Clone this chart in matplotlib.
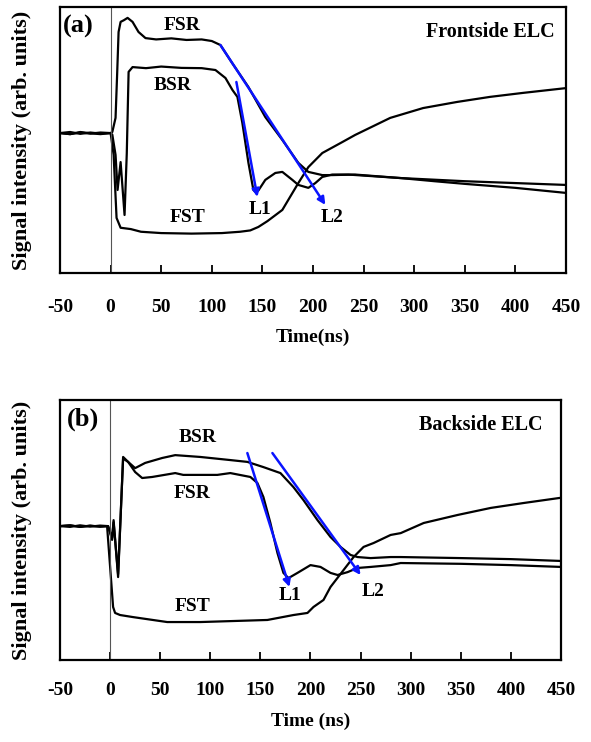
import matplotlib
matplotlib.use('Agg')
import matplotlib.pyplot as plt

plt.rcParams['font.family'] = ['Liberation Serif', 'DejaVu Serif']
plt.rcParams['font.weight'] = 'bold'

# ---- panel (a): Frontside ELC ----
t_fsr_a = [-50, -40, -30, -20, -10, 0, 1.7, 4.9, 6.5, 7.9, 9.9, 13, 16.8, 21.7, 27.6, 34.5,
           45, 60, 75, 90, 100, 108.5, 120, 136.2, 152.9, 169.7, 185.5, 195.4, 209.2,
           219, 241.7, 286, 320, 350, 400, 450]
y_fsr_a = [0.526, 0.530, 0.523, 0.528, 0.524, 0.526, 0.530, 0.583, 0.750, 0.906, 0.944, 0.950,
           0.959, 0.944, 0.906, 0.883, 0.878, 0.882, 0.876, 0.878, 0.872, 0.857, 0.790,
           0.699, 0.586, 0.500, 0.414, 0.380, 0.368, 0.368, 0.370, 0.357, 0.345, 0.335,
           0.320, 0.301]

t_bsr_a = [-50, -40, -30, -20, -10, 0, 1.7, 4.9, 6.9, 9.9, 13.8, 16, 17.8, 21.7, 35, 50, 70,
           90, 103.6, 113.5, 120.4, 125.3, 130.2, 136.2, 141.1, 143.1, 146, 152.9, 162.8,
           169.7, 179.6, 185.5, 195.4, 202.3, 209.2, 219, 234.8, 286, 350, 400, 450]
y_bsr_a = [0.526, 0.522, 0.528, 0.524, 0.528, 0.526, 0.520, 0.444, 0.312, 0.417, 0.218,
           0.450, 0.756, 0.774, 0.770, 0.776, 0.771, 0.770, 0.763, 0.733, 0.688, 0.662,
           0.564, 0.414, 0.312, 0.305, 0.310, 0.350, 0.376, 0.380, 0.350, 0.331, 0.320,
           0.338, 0.361, 0.370, 0.370, 0.357, 0.345, 0.338, 0.331]

t_fst_a = [-50, -40, -30, -20, -10, 0, 1, 3, 5.9, 9.9, 20, 30, 50, 80, 110, 128, 138, 146,
           155, 169.7, 185.5, 195.4, 209.2, 228.9, 241.7, 276.3, 308.8, 342.4, 374.9,
           407.5, 450]
y_fst_a = [0.526, 0.522, 0.530, 0.525, 0.522, 0.526, 0.500, 0.444, 0.207, 0.170, 0.165,
           0.155, 0.150, 0.148, 0.150, 0.155, 0.160, 0.173, 0.195, 0.237, 0.338, 0.398,
           0.451, 0.492, 0.519, 0.583, 0.620, 0.643, 0.662, 0.677, 0.695]

arrows_a = [((124.3, 0.718), (145.0, 0.286)), ((108.5, 0.857), (212.2, 0.256))]
labels_a = [('FSR', 71, 0.932), ('BSR', 61, 0.703), ('FST', 76, 0.207),
            ('L1', 148, 0.237), ('L2', 219, 0.210)]

# ---- panel (b): Backside ELC ----
t_bsr_b = [-50, -40, -30, -20, -10, -2, 2, 3.5, 8, 13, 18, 25, 35, 52, 65, 90, 120, 137,
           153, 170, 183, 193, 207, 220, 230, 240, 247, 260, 280, 290, 350, 400, 450]
y_bsr_b = [0.515, 0.512, 0.518, 0.513, 0.517, 0.515, 0.462, 0.538, 0.319, 0.781, 0.762,
           0.738, 0.758, 0.777, 0.788, 0.781, 0.769, 0.762, 0.742, 0.719, 0.665, 0.615,
           0.538, 0.473, 0.435, 0.404, 0.396, 0.392, 0.396, 0.396, 0.392, 0.388, 0.381]

t_fsr_b = [-50, -40, -30, -20, -10, -2, 2, 3.5, 8, 13, 18, 25, 32, 42, 65, 73, 107, 120,
           140, 147, 153, 160, 167, 173, 178, 187, 200, 210, 220, 227, 237, 247, 260, 280,
           290, 350, 400, 450]
y_fsr_b = [0.515, 0.518, 0.512, 0.517, 0.513, 0.515, 0.470, 0.530, 0.330, 0.775, 0.762,
           0.723, 0.700, 0.704, 0.719, 0.712, 0.712, 0.719, 0.704, 0.681, 0.627, 0.527,
           0.412, 0.335, 0.315, 0.335, 0.365, 0.358, 0.335, 0.327, 0.338, 0.354, 0.358,
           0.365, 0.373, 0.370, 0.365, 0.358]

t_fst_b = [-50, -40, -30, -20, -10, -3, 3, 5, 10, 23, 57, 90, 157, 183, 197, 203, 213, 220,
           233, 243, 253, 263, 280, 290, 313, 347, 380, 413, 448]
y_fst_b = [0.515, 0.518, 0.512, 0.516, 0.513, 0.515, 0.204, 0.181, 0.173, 0.165, 0.146,
           0.146, 0.154, 0.173, 0.181, 0.204, 0.231, 0.281, 0.346, 0.396, 0.435, 0.450,
           0.481, 0.488, 0.527, 0.558, 0.585, 0.604, 0.623]

arrows_b = [((137, 0.796), (179, 0.281)), ((162, 0.796), (250, 0.327))]
labels_b = [('BSR', 87, 0.854), ('FSR', 82, 0.642), ('FST', 82, 0.204),
            ('L1', 180, 0.250), ('L2', 262, 0.262)]

xticks = [-50, 0, 50, 100, 150, 200, 250, 300, 350, 400, 450]


def draw_panel(ax, curves, arrows, labels, tag, tag_x, title, title_x, xlabel,
               tickpad, labelpad):
    for t, y in curves:
        ax.plot(t, y, color='black', lw=1.6)
    ax.axvline(0, color='#555555', lw=0.8)
    for (x0, y0), (x1, y1) in arrows:
        ax.annotate('', xy=(x1, y1), xytext=(x0, y0),
                    arrowprops=dict(arrowstyle='-|>', color='#0a14ff', lw=1.8,
                                    mutation_scale=11, shrinkA=0, shrinkB=0))
    for txt, x, y in labels:
        ax.text(x, y, txt, fontsize=14, fontweight='bold', ha='center', va='center')
    ax.text(tag_x, 0.925, tag, transform=ax.transAxes, fontsize=19,
            fontweight='bold', ha='left', va='center')
    ax.text(title_x, 0.905, title, transform=ax.transAxes, fontsize=14.5,
            fontweight='bold', ha='right', va='center')

    ax.set_xlim(-50, 450)
    ax.set_ylim(0, 1)
    ax.set_xticks(xticks)
    ax.set_xticklabels([str(v) for v in xticks])
    ax.tick_params(axis='x', direction='in', length=6, width=1.3,
                   labelsize=14, pad=tickpad)
    ax.tick_params(axis='y', left=False, labelleft=False)
    for sp in ax.spines.values():
        sp.set_linewidth(1.6)
    ax.set_xlabel(xlabel, fontsize=14, fontweight='bold', labelpad=labelpad)
    ax.set_ylabel('Signal intensity (arb. units)', fontsize=16, fontweight='bold')
    ax.yaxis.set_label_coords(-0.055, 0.5)


fig = plt.figure(figsize=(5.91, 7.42), dpi=100)
ax1 = fig.add_axes([0.1015, 0.6321, 0.8562, 0.3585])
ax2 = fig.add_axes([0.1015, 0.1105, 0.8477, 0.3504])

draw_panel(ax1, [(t_fsr_a, y_fsr_a), (t_bsr_a, y_bsr_a), (t_fst_a, y_fst_a)],
           arrows_a, labels_a, '(a)', 0.006, 'Frontside ELC', 0.978, 'Time(ns)', 19, 9)
draw_panel(ax2, [(t_bsr_b, y_bsr_b), (t_fsr_b, y_fsr_b), (t_fst_b, y_fst_b)],
           arrows_b, labels_b, '(b)', 0.014, 'Backside ELC', 0.964, 'Time (ns)', 16, 10)

fig.savefig('out.png', dpi=100, facecolor='white')
